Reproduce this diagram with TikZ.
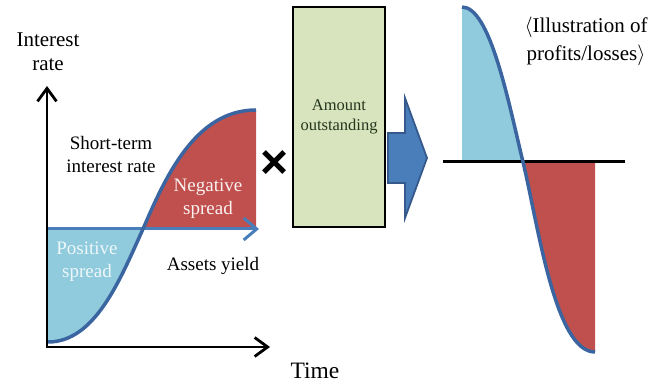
\documentclass[tikz,border=0pt]{standalone}
\usepackage{fontspec}
\setmainfont{Liberation Serif}
\newfontfamily\crossfont{Liberation Sans}
\usetikzlibrary{arrows.meta}
\definecolor{curveblue}{HTML}{3B65A0}
\definecolor{yieldblue}{HTML}{4A7EBB}
\definecolor{lightblue}{HTML}{8FCBDC}
\definecolor{spreadred}{HTML}{C0504D}
\definecolor{boxgreen}{HTML}{D7E4BD}
\definecolor{boxtext}{HTML}{24361C}
\definecolor{arrowfill}{HTML}{4A7EBB}
\definecolor{arrowedge}{HTML}{36598C}
\begin{document}
\begin{tikzpicture}[x=1pt,y=-1pt,
  lbl/.style={align=center,inner sep=0pt,font=\fontsize{19}{23}\selectfont},
  biglbl/.style={align=center,inner sep=0pt,font=\fontsize{21}{28}\selectfont},
  sigma/.style={draw=curveblue,line width=3.5pt},
  axis/.style={line width=2.8pt,line join=miter,{Straight Barb[length=13pt,width=19pt]}-{Straight Barb[length=13pt,width=19pt]}},
  yieldarrow/.style={draw=yieldblue,line width=3pt,-{Straight Barb[length=13pt,width=22pt]}},
  zeroline/.style={line width=3pt}
]
\useasboundingbox (0,0) rectangle (670,387);

% ---------- left chart ----------
\coordinate (O) at (47,347);
\coordinate (ytip) at (47,86);
\coordinate (xtip) at (270,347);
\coordinate (ys) at (48,229);
\coordinate (ye) at (259,229);
\coordinate (c0) at (48,342);
\coordinate (cx) at (143,229);
\coordinate (c1) at (256,110);
\coordinate (cb) at (256,229);

\fill[lightblue] (ys) -- (c0) .. controls (95,342) and (120,280) .. (cx) -- cycle;
\fill[spreadred] (cx) .. controls (165,178) and (195,110) .. (c1) -- (cb) -- cycle;
\draw[yieldarrow] (ys) -- (ye);
\draw[sigma] (c0) .. controls (95,342) and (120,280) .. (cx)
             .. controls (165,178) and (195,110) .. (c1);
\draw[axis] (ytip) |- (xtip);

\node[biglbl,font=\fontsize{21}{24}\selectfont] (irate) at (48,52) {Interest\\rate};
\node[font=\fontsize{23.5}{26}\selectfont,inner sep=0pt] (time) at (315,371) {Time};
\node[lbl] (short) at (111,155) {Short-term\\interest rate};
\node[lbl,text=white!92!spreadred] (neg) at (208,199) {Negative\\spread};
\node[lbl,text=white!85!lightblue] (pos) at (87,262) {Positive\\spread};
\node[lbl] (yield) at (213,266) {Assets yield};

\node[font=\crossfont\bfseries\fontsize{48}{48}\selectfont,inner sep=0pt] (times) at (275,165) {×};

% ---------- amount box ----------
\node[draw,line width=2pt,fill=boxgreen,minimum width=92pt,minimum height=220pt,
      align=center,text=boxtext,font=\fontsize{16.5}{20}\selectfont] (box) at (339,117)
      {Amount\\outstanding};

% ---------- block arrow ----------
\filldraw[fill=arrowfill,draw=arrowedge,line width=1.8pt,line join=miter]
  (388,133) -- (405,133) -- (405,98) -- (427,158) -- (405,218) -- (405,183) -- (388,183) -- cycle;

% ---------- right chart ----------
\coordinate (r0) at (462,7);
\coordinate (rb0) at (462,162);
\coordinate (rx) at (523,162);
\coordinate (r1) at (595,352);
\coordinate (rb1) at (595,162);
\coordinate (zl) at (443,162);
\coordinate (zr) at (625,162);

\fill[lightblue] (rb0) -- (r0) .. controls (490,7) and (508,100) .. (rx) -- cycle;
\fill[spreadred] (rx) .. controls (538,224) and (555,352) .. (r1) -- (rb1) -- cycle;
\draw[zeroline] (zl) -- (zr);
\draw[sigma] (r0) .. controls (490,7) and (508,100) .. (rx)
             .. controls (538,224) and (555,352) .. (r1);

\node[biglbl] (illus) at (586,41) {$\langle$Illustration of\\profits/losses$\rangle$};
\end{tikzpicture}
\end{document}
